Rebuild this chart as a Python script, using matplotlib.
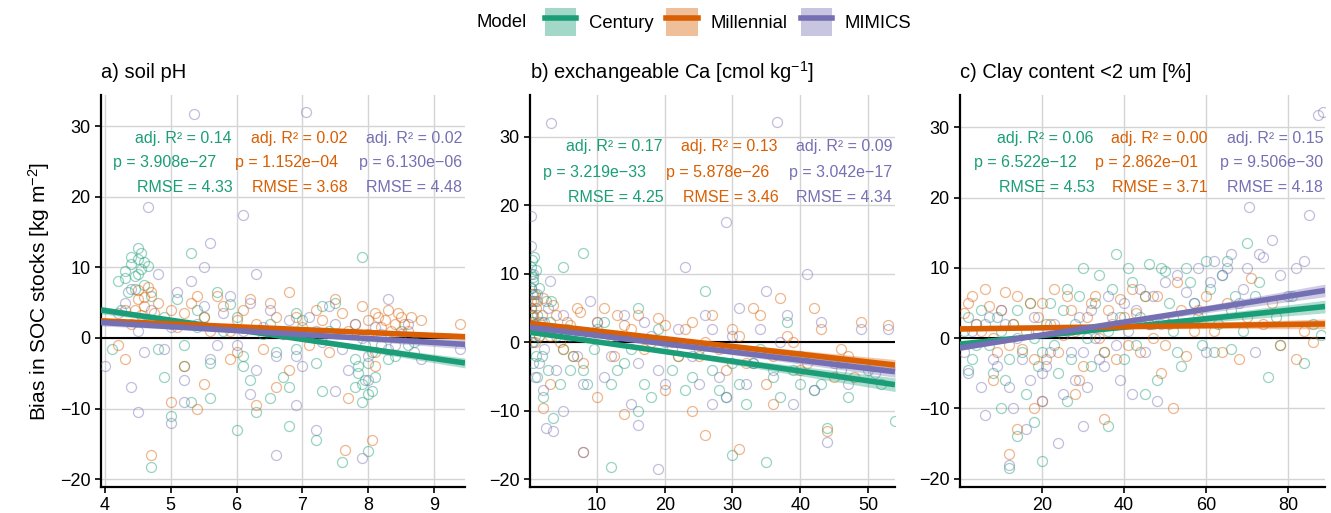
import numpy as np
import matplotlib
matplotlib.use('Agg')
import matplotlib.pyplot as plt
from matplotlib.patches import Patch
from matplotlib.lines import Line2D

plt.rcParams['font.family'] = ['Liberation Sans', 'DejaVu Sans']
plt.rcParams['mathtext.fontset'] = 'custom'
plt.rcParams['mathtext.rm'] = 'Liberation Sans'
plt.rcParams['mathtext.it'] = 'Liberation Sans:italic'

models = ['Century', 'Millennial', 'MIMICS']
colors = ['#1B9E77', '#D95F02', '#7570B3']

titles = ['a) soil pH', 'b) exchangeable Ca [cmol kg$^{-1}$]', 'c) Clay content <2 um [%]']

# ---- scatter data (x, y) ----
# panel a: soil pH
a_cen = [(4.3, 9.5), (4.4, 10.5), (4.45, 8.8), (4.5, 11.2), (4.55, 9.8), (4.6, 7.5), (4.35, 6.5), (4.5, 12.8),
         (4.65, 10.2), (4.2, 8.0), (5.1, 5.5), (5.3, 12.0), (5.5, 3.0), (5.2, -4.0), (5.6, -8.5), (5.4, 1.5),
         (5.9, 4.8), (6.1, -2.5), (6.3, -10.5), (6.5, 2.0), (6.7, -5.5), (6.9, 3.5), (7.1, 0.5), (7.3, -7.5),
         (7.5, 5.0), (6.0, -13.0), (7.2, -14.5), (5.0, -11.0), (7.8, -3.0), (7.9, -6.5), (7.95, -1.0), (8.0, -8.0),
         (7.85, -5.0), (8.05, -2.0), (7.9, 11.5), (8.0, -16.0), (7.6, -17.5), (4.7, -18.2), (8.4, -2.5), (8.6, -1.0),
         (4.1, -1.5), (4.9, -5.5), (6.8, -12.5),
         (4.3, 8.5), (4.4, 11.5), (4.5, 9.0), (4.6, 10.8), (4.7, 6.0), (4.45, 7.0), (4.55, 12.0), (4.25, 4.0),
         (5.0, 2.0), (5.2, -1.0), (5.4, 4.0), (5.6, -3.5), (5.8, 1.0), (6.0, 3.0), (6.2, -6.0), (6.4, 0.5),
         (6.6, -2.0), (6.8, -7.0), (7.0, 2.5), (7.2, -3.5), (7.4, 1.0), (5.3, -9.0), (5.7, 6.5), (6.1, -4.0),
         (6.5, -8.5), (6.9, -1.5), (7.3, 4.5), (7.8, -7.0), (7.85, -4.0), (7.9, -9.0), (7.95, -6.0), (8.0, -3.5),
         (8.05, -7.5), (8.1, -5.5), (8.2, -1.0), (8.3, -3.0), (8.5, 1.0), (8.7, -0.5), (4.8, -1.5), (4.9, 3.0)]
a_mil = [(4.5, 5.5), (4.6, 4.5), (4.7, 6.5), (4.55, 3.2), (4.8, 5.0), (4.65, 7.2), (4.4, 2.0), (4.2, -1.0),
         (4.3, 4.0), (5.2, 3.5), (5.4, 6.0), (5.6, 1.0), (5.8, 4.5), (6.0, 2.5), (6.2, 5.5), (6.4, -1.5),
         (6.6, 3.0), (6.8, 6.5), (7.0, 1.5), (7.2, 4.0), (7.4, -2.0), (7.6, 3.5), (5.5, -6.5), (6.3, -9.5),
         (5.0, -9.0), (7.7, -8.5), (8.0, 2.5), (8.1, 3.5), (8.2, 1.5), (8.3, 4.0), (8.4, 2.0), (8.5, 3.0),
         (8.6, 1.0), (8.8, 2.5), (9.4, 2.0), (8.05, -14.5), (7.65, -15.8), (4.7, -16.5), (8.1, -4.0), (5.9, -3.0),
         (4.45, 4.0), (4.6, 5.8), (4.75, 3.5), (4.5, 6.8), (4.7, 2.5), (5.0, 4.0), (5.1, 1.5), (5.3, 5.0),
         (5.5, 3.0), (5.7, 6.0), (5.9, 1.0), (6.1, 4.0), (6.3, 2.0), (6.5, 5.0), (6.7, 0.5), (6.9, 3.0),
         (7.1, -1.0), (7.3, 2.5), (7.5, 5.5), (7.7, 1.0), (5.2, -4.0), (6.0, -2.0), (6.8, -4.5), (7.8, 2.0),
         (7.9, 4.5), (8.0, 0.5), (8.15, 3.0), (8.25, 2.5), (8.35, 1.0), (8.45, 3.5), (8.55, 2.0), (8.65, 3.0),
         (8.1, -2.0), (5.4, -10.0), (6.6, -7.0), (4.3, -3.0)]
a_mim = [(4.2, 3.5), (4.4, 7.0), (4.6, -2.0), (4.8, 9.0), (5.0, 1.5), (5.2, -6.0), (5.3, 8.0), (5.5, 4.5),
         (5.7, -1.0), (5.9, 6.0), (6.1, 1.0), (6.3, -4.5), (6.5, 4.0), (6.7, 0.5), (6.9, -2.5), (7.1, 3.0),
         (7.3, -0.5), (7.5, 2.0), (7.7, -4.5), (7.9, 0.0), (8.1, 1.5), (8.3, -1.5), (8.5, 0.5), (8.7, -2.0),
         (9.4, -1.5), (5.35, 31.7), (7.05, 32.0), (4.65, 18.6), (6.1, 17.4), (5.6, 13.5), (4.5, -10.5), (6.6, -16.5),
         (7.9, -17.0), (7.2, -13.0), (8.3, 5.5), (5.0, -12.0), (6.2, -8.0), (4.0, -4.0),
         (4.3, 5.0), (4.5, 1.0), (4.7, 4.0), (4.9, -1.5), (5.1, 6.5), (5.4, 2.0), (5.6, -3.0), (5.8, 3.5),
         (6.0, -1.0), (6.2, 5.0), (6.4, 1.5), (6.6, -2.5), (6.8, 2.5), (7.0, -4.0), (7.2, 1.0), (7.4, 4.5),
         (7.6, -1.5), (7.8, 2.0), (8.0, -2.5), (8.2, 0.5), (8.4, -1.0), (8.6, 2.0), (8.8, -3.0), (5.5, 10.0),
         (6.3, 9.0), (5.2, -9.0), (7.5, -7.5), (8.0, -6.0), (4.4, -7.0), (6.9, -9.5)]

# panel b: exchangeable Ca
b_cen = [(0.3, 11), (0.5, 9), (0.4, 7), (0.2, 5), (0.6, 3), (0.8, 1), (1.0, -2), (1.2, -5), (0.7, 12.5),
         (1.5, 8), (2.5, 6), (3, 3), (4, 1), (5, -1), (6, -4), (2, -8), (3.5, -11), (8, -4), (10, 2), (12, -6),
         (14, -3), (16, 5), (18, -8), (20, 0), (22, -2), (24, -5), (26, 7.5), (28, -7), (30, -3), (32, -9),
         (34, -1), (36, -5), (38, 3), (40, -6), (42, -7), (44, -12.5), (46, -3), (50, -4), (54, -11.5),
         (30, -16.5), (12, -18.2), (35, -17.5), (8, 13), (5, 11),
         (0.2, 10), (0.3, 8), (0.4, 12), (0.5, 6), (0.6, 9.5), (0.3, 4), (0.2, 2), (0.4, 0), (0.5, -3),
         (0.8, 7), (1.0, 10.5), (1.2, 4), (1.4, 1), (1.8, -2), (2.2, 3), (2.8, -4), (3.2, 6), (4.5, -6),
         (5.5, 2), (6.5, -2), (7.5, 1), (8.5, -6), (9.5, -1), (11, 3), (13, -4), (15, -1), (17, -6), (19, 2),
         (21, -4), (23, -7), (25, -1), (27, -4), (29, -8), (31, -6), (33, -3), (37, -8), (39, -4), (43, -6),
         (47, -8), (52, -6), (16, -10)]
b_mil = [(0.3, 6), (0.5, 4), (0.8, 2), (1.0, 5), (1.5, 3), (2, 6.5), (3, 1), (4, 4), (5, -1), (6, 2.5),
         (7, 5), (8, -3), (10, 3), (12, 1), (13, 4), (15, 2), (17, -1), (19, 3.5), (21, 0), (23, 2), (25, -2),
         (27, 4), (29, -4), (31, 1), (33, 5), (35, -6), (37, 6.5), (39, 0), (41, -3), (43, 2), (45, -5),
         (47, -2), (49, 3), (53, 2.5), (2, -9.5), (8, -16), (26, -13.5), (31, -15.5), (44, -13), (14, -10.5),
         (20, -7),
         (0.2, 5), (0.4, 3), (0.6, 7), (0.9, 0), (1.2, 6), (1.4, 1), (1.8, 4), (2.5, 2), (3.5, 5.5), (4.5, 0),
         (5.5, 3), (6.5, -2), (7.5, 4.5), (9, 1), (11, 5), (12.5, -2), (14, 2.5), (16, 4), (18, 0), (20, 2.5),
         (22, -2), (24, 3), (26, 0), (28, -1), (30, 2), (32, -3), (34, 4), (36, -2), (38, 1), (40, -4),
         (42, 5), (46, -1), (48, -5), (3, -6), (10, -8), (24, -10), (36, -9)]
b_mim = [(0.2, 18.5), (0.3, 14), (0.5, 10), (0.8, 6), (1, 2), (1.5, -3), (2, -7), (2.5, -12.5), (3.5, -13),
         (3, 9), (5, 4), (7, -2), (9, 6), (11, -5), (13, 1), (15, -9), (17, 3), (19, -4), (21, -1), (23, 11),
         (25, -6), (27, 2), (29, -8), (31, 5), (33, -3), (35, 7.5), (37, 0), (39, -9), (41, 10), (43, 3),
         (45, -3), (47, -6), (51, -4.5), (53, 2), (8, -16), (29, 17.5), (36.6, 32.1), (3.2, 32), (44, -14.5),
         (19, -18.5),
         (0.3, 8), (0.4, 4), (0.6, 0), (0.9, -5), (1.2, 7), (1.8, 3), (2.2, -1), (2.8, 5), (4, -4), (6, 1),
         (8, -6), (10, 3), (12, -2), (14, 4), (16, -3), (18, 1), (20, -6), (22, 2), (24, -2), (26, 4),
         (28, -5), (30, 1), (32, -6), (34, 2), (36, -4), (38, 4), (40, -2), (42, -7), (46, -4), (49, 2),
         (5, -10), (16, -12), (27, -9)]

# panel c: clay content
c_cen = [(2, 3), (4, -1), (6, 2), (8, -5), (10, 1), (12, -3), (14, 4), (16, -8), (18, 0), (20, -2), (22, 5),
         (24, -5), (26, 7), (28, 2), (30, 10), (32, -4), (34, 9), (36, 1), (38, 12), (40, -3), (42, 8), (44, 3),
         (46, 10.5), (48, -6), (50, 9.5), (52, 1), (54, -4), (56, 8), (58, 3), (60, 11), (62, -2), (64, 9),
         (66, 4), (70, 13.5), (72, 6), (75, -5.5), (78, -1), (84, -3.5), (88, 0.5), (12, -18.5), (20, -17.5),
         (14, -14), (36, -12.5), (45, -8), (66, -1.5), (2, -4.5),
         (1, 1), (3, -3), (5, 4), (7, -1), (9, 3), (11, -6), (13, 2), (15, -2), (17, 5), (19, -4), (21, 2),
         (23, -1), (25, 4), (27, -3), (29, 6), (31, 0), (33, 5), (35, -2), (37, 7), (39, 3), (41, 10), (43, -1),
         (45, 6), (47, 2), (49, 10), (51, 5), (53, -2), (55, 10), (57, 5), (59, -1), (61, 7), (63, 2), (65, 11),
         (67, 6), (69, 1), (73, 8), (77, 3), (81, 6), (86, 2), (10, -10), (18, -12), (26, -9)]
c_mil = [(1, 3.5), (3, 6), (5, 1), (7, 4.5), (9, -2), (11, 6.5), (13, 2), (15, -1.5), (17, 5), (19, 3),
         (21, -3), (23, 7), (25, 0.5), (27, 4), (29, -6), (31, 3), (33, 6), (35, -2), (37, 2), (39, 5.5),
         (41, -1), (43, 3.5), (45, 6), (47, 0), (49, -5), (51, 2), (53, 8), (55, -2.5), (58, 4), (62, 1),
         (65, 5), (68, -3), (71, 8.5), (74, 2), (78, -1), (82, -3), (86, -0.5), (12, -16.5), (14, -13),
         (35, -11.5), (52, -10), (20, -9),
         (2, 5), (4, 2), (6, 7), (8, 0), (10, 4), (12, -1), (14, 6), (16, 1), (18, -3), (20, 5), (22, 2),
         (24, -2), (26, 6), (28, 1), (30, -4), (32, 5), (34, 0), (36, 4), (38, -3), (40, 3), (42, 7), (44, -2),
         (46, 2), (48, 6), (50, -1), (54, 4), (57, 1), (60, 6), (64, -2), (70, 3), (76, 5), (84, 1), (8, -6),
         (18, -10), (28, -8)]
c_mim = [(2, -5), (4, 2), (6, -11), (8, -3), (10, 4), (12, -7), (14, 0), (16, -13), (18, 3), (20, -9),
         (22, -2), (24, -15), (26, 1), (28, -6), (30, -12.5), (32, 4), (34, -3), (36, 6), (38, -1), (40, 5),
         (42, -8), (44, 7), (46, 2), (48, -9), (50, 8), (52, 3), (55, 6.5), (58, 10), (60, -2), (62, 11),
         (64, 9), (66, 12), (68, 5), (70, 10), (72, -2), (74, 11.5), (76, 14), (80, 6), (82, 10), (85, 17.5),
         (70.5, 18.6), (87.3, 31.8), (88.5, 32.2), (12, -18.0), (30, -2), (20, -5),
         (1, -2), (3, 1), (5, -7), (7, 3), (9, -4), (11, 2), (13, -10), (15, -3), (17, -6), (19, 1), (21, -4),
         (23, 2), (25, -8), (27, -2), (29, 3), (31, -7), (33, 0), (35, -4), (37, 3), (39, -6), (41, 1), (43, 4),
         (45, -2), (47, 6), (49, 2), (53, 9), (57, 5), (61, 8), (65, 10), (69, 7), (73, 12), (78, 9), (84, 11)]

scatter = [[a_cen, a_mil, a_mim], [b_cen, b_mil, b_mim], [c_cen, c_mil, c_mim]]

# ---- regression fits: intercept, slope, band half-width at centre / at right edge ----
fit_intercept = [[9.3, 4.03, 4.4], [1.5, 2.8, 2.2], [-0.85, 1.3, -1.4]]
fit_slope = [[-1.356, -0.407, -0.56], [-0.142, -0.113, -0.12], [0.060, 0.008, 0.092]]
band_mid = [[0.2, 0.15, 0.2], [0.2, 0.2, 0.2], [0.2, 0.2, 0.2]]
band_edge = [[0.7, 0.45, 0.65], [1.0, 0.8, 0.8], [0.9, 0.7, 0.9]]
band_centre = [6.3, 12, 25]

# ---- stats text ----
r2_txt = [['0.14', '0.02', '0.02'], ['0.17', '0.13', '0.09'], ['0.06', '0.00', '0.15']]
p_txt = [['3.908e\u221227', '1.152e\u221204', '6.130e\u221206'],
         ['3.219e\u221233', '5.878e\u221226', '3.042e\u221217'],
         ['6.522e\u221212', '2.862e\u221201', '9.506e\u221230']]
rmse_txt = [['4.33', '3.68', '4.48'], ['4.25', '3.46', '4.34'], ['4.53', '3.71', '4.18']]

xlims = [(3.94, 9.47), (0.1, 54.0), (0.0, 89.0)]
ylims = [(-21.1, 34.4), (-21.1, 36.1), (-21.2, 34.6)]
xticks = [[4, 5, 6, 7, 8, 9], [10, 20, 30, 40, 50], [20, 40, 60, 80]]
yticks = [-20, -10, 0, 10, 20, 30]

# right ends (axes fraction) for each text column, per row
txt_right = [
    [[0.360, 0.676, 0.992], [0.316, 0.651, 0.992], [0.363, 0.679, 0.992]],
    [[0.362, 0.679, 0.992], [0.318, 0.655, 0.992], [0.367, 0.682, 0.992]],
    [[0.365, 0.679, 0.995], [0.321, 0.652, 0.995], [0.370, 0.679, 0.995]],
]
txt_rows_px = [[138, 163, 188], [147, 172, 197], [138, 163, 188]]

W, H = 1331, 513
fig = plt.figure(figsize=(W / 100, H / 100), dpi=100)
lefts = [101, 530, 960]
widths = [364, 365, 365]
top_px, bot_px = 95, 487

for i in range(3):
    ax = fig.add_axes([lefts[i] / W, (H - bot_px) / H, widths[i] / W, (bot_px - top_px) / H])
    ax.set_xlim(*xlims[i])
    ax.set_ylim(*ylims[i])
    ax.set_xticks(xticks[i])
    ax.set_yticks(yticks)
    ax.grid(True, color='#d4d4d4', lw=1.0)
    ax.set_axisbelow(True)
    for s in ['top', 'right']:
        ax.spines[s].set_visible(False)
    for s in ['left', 'bottom']:
        ax.spines[s].set_linewidth(1.6)
    ax.tick_params(labelsize=13, length=4, width=1.2, colors='black')
    ax.axhline(0, color='black', lw=1.5, zorder=2)

    for k in range(3):
        xs, ys = zip(*scatter[i][k])
        ax.plot(xs, ys, 'o', ms=7.2, mfc='none', mec=colors[k], mew=0.9, alpha=0.45, zorder=3)

    xx = np.linspace(xlims[i][0], xlims[i][1], 100)
    for k in range(3):
        yy = fit_intercept[i][k] + fit_slope[i][k] * xx
        xc = band_centre[i]
        frac = (xx - xc) / (xlims[i][1] - xc)
        hw = np.sqrt(band_mid[i][k] ** 2 + (band_edge[i][k] ** 2 - band_mid[i][k] ** 2) * frac ** 2)
        ax.fill_between(xx, yy - hw, yy + hw, color=colors[k], alpha=0.35, lw=0, zorder=4)
        ax.plot(xx, yy, color=colors[k], lw=4, zorder=5, solid_capstyle='butt')

    for k in range(3):
        rows = ['adj. R\u00b2 = ' + r2_txt[i][k], 'p = ' + p_txt[i][k], 'RMSE = ' + rmse_txt[i][k]]
        for r in range(3):
            yfrac = (bot_px - txt_rows_px[i][r]) / (bot_px - top_px)
            ax.text(txt_right[i][r][k], yfrac, rows[r], transform=ax.transAxes, ha='right', va='center',
                    color=colors[k], fontsize=11.5, zorder=6)

    ax.set_title(titles[i], loc='left', fontsize=14.5, pad=12)
    if i == 0:
        ax.set_ylabel('Bias in SOC stocks [kg m$^{-2}$]', fontsize=15, labelpad=6)

# legend
handles = []
for k in range(3):
    handles.append((Patch(facecolor=colors[k], alpha=0.4, lw=0),
                    Line2D([], [], color=colors[k], lw=4)))
fig.legend(handles, models, loc='center', bbox_to_anchor=(0.547, 0.957), ncol=3, frameon=False,
           fontsize=13.3, handlelength=1.7, handleheight=1.9, handletextpad=0.7, columnspacing=0.7,
           borderaxespad=0)
fig.text(0.358, 0.957, 'Model', ha='left', va='center', fontsize=13.3)

fig.savefig('out.png', dpi=100)
